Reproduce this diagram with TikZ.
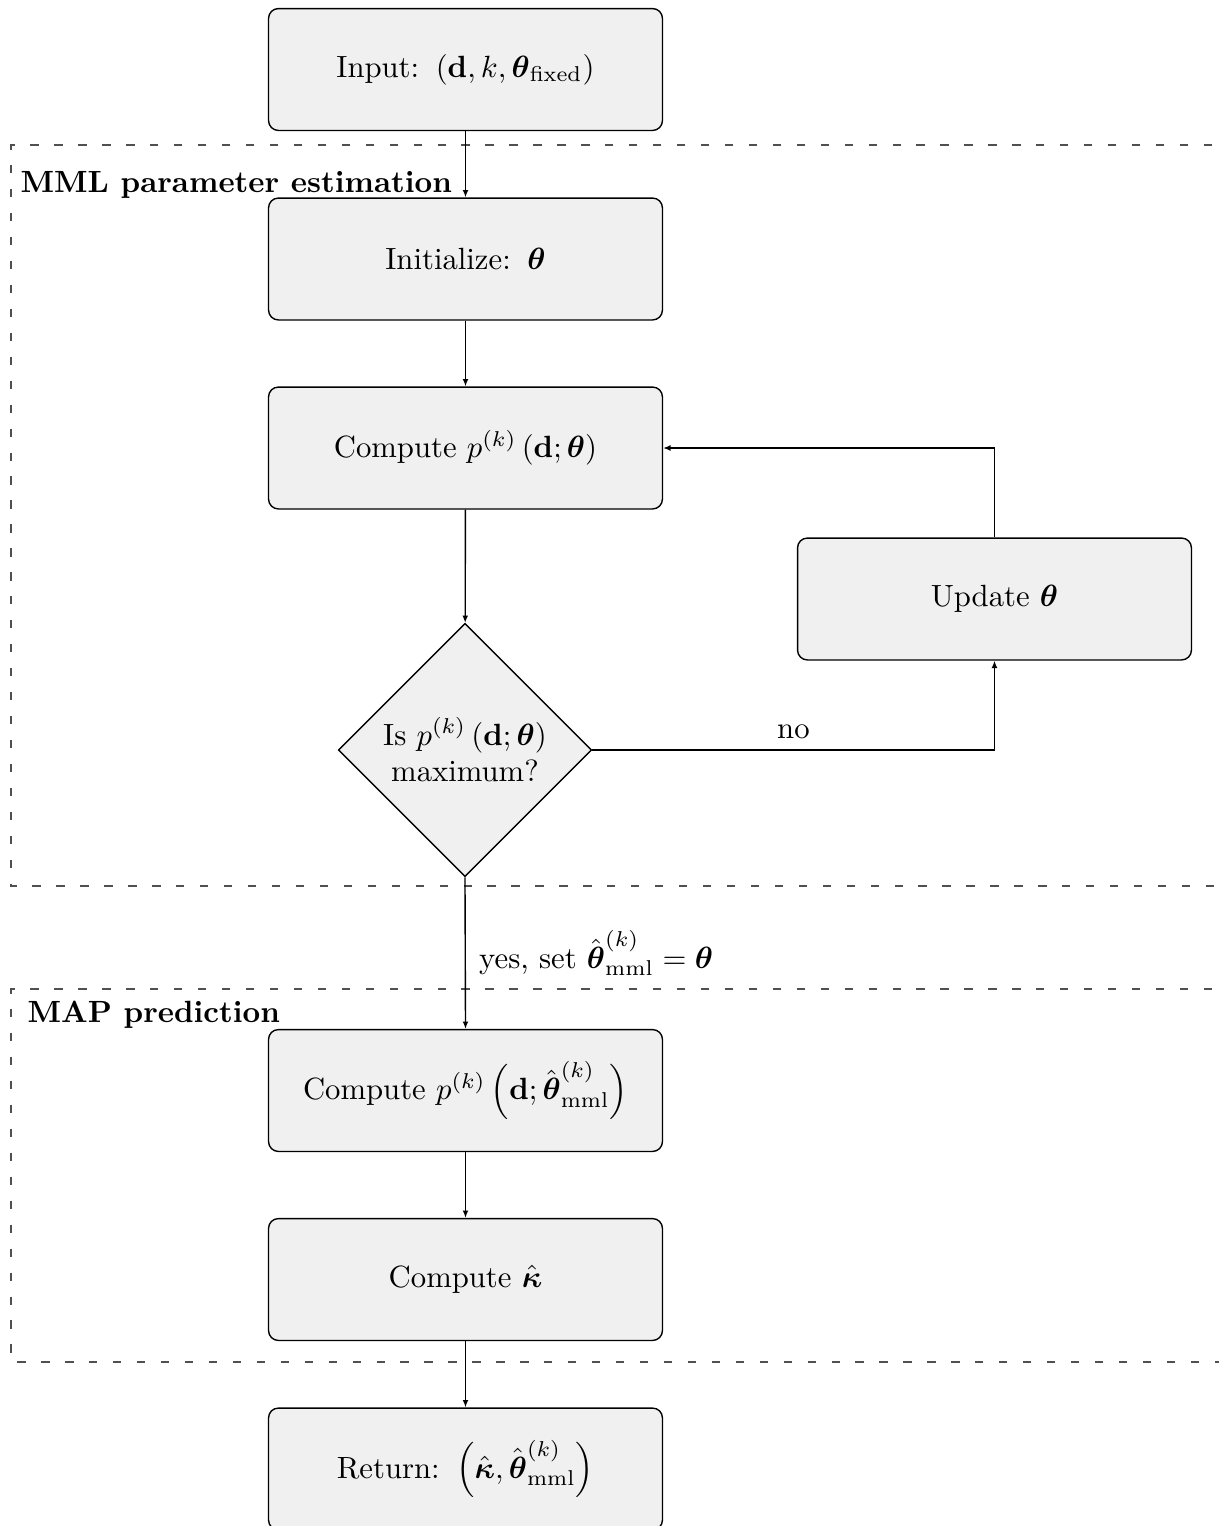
\documentclass[tikz,border=0pt]{standalone}
\usepackage{amsmath}
\usetikzlibrary{shapes.geometric,arrows.meta}
\definecolor{boxfill}{RGB}{240,240,240}
\definecolor{framegray}{RGB}{80,80,80}
\newcommand{\colongap}{\hspace{5.4pt}}
\tikzset{
  procbox/.style={draw, fill=boxfill, rounded corners=3.2pt, line width=0.45pt,
    minimum width=128.3pt, minimum height=39.7pt, align=center, inner sep=2pt},
  decbox/.style={draw, fill=boxfill, diamond, aspect=1, line width=0.45pt,
    minimum size=82.5pt, inner sep=0pt, align=center},
  flow/.style={-{Latex[length=2.4pt,width=1.9pt]}, line width=0.45pt},
  framebox/.style={draw=framegray, line width=0.45pt, dash pattern=on 2.7pt off 5.1pt},
  grouptitle/.style={font=\bfseries, inner sep=0pt, anchor=base west}
}
\begin{document}
\begin{tikzpicture}[x=0.32573pt, y=-0.32573pt]
  \useasboundingbox (0,0) rectangle (1219,1526);
  \clip (0,0) rectangle (1219,1526);

  % dashed group frames (open towards the right edge)
  \draw[framebox] (1260,145) -- (11,145) -- (11,886) -- (1260,886);
  \draw[framebox] (1260,989) -- (11,989) -- (11,1362) -- (1260,1362);
  \node[grouptitle] (mmltitle) at (20,192) {MML parameter estimation};
  \node[grouptitle] (maptitle) at (27,1022) {MAP prediction};

  % process steps
  \node[procbox] (input) at (465.5,69.5) {Input:\colongap$(\mathbf{d},k,\boldsymbol{\theta}_{\mathrm{fixed}})$};
  \node[procbox] (init) at (465.5,259) {Initialize:\colongap$\boldsymbol{\theta}$};
  \node[procbox] (comp) at (465.5,448) {Compute $p^{(k)}\left(\mathbf{d};\boldsymbol{\theta}\right)$};
  \node[decbox] (dec) at (465,750) {Is $p^{(k)}\left(\mathbf{d};\boldsymbol{\theta}\right)$\\maximum?};
  \node[procbox] (upd) at (994.5,599) {Update $\boldsymbol{\theta}$};
  \node[procbox] (comp2) at (465.5,1090.5) {Compute $p^{(k)}\left(\mathbf{d};\hat{\boldsymbol{\theta}}^{(k)}_{\mathrm{mml}}\right)$};
  \node[procbox] (kappa) at (465.5,1279.5) {Compute $\hat{\boldsymbol{\kappa}}$};
  \node[procbox] (ret) at (465.5,1469) {Return:\colongap$\left(\hat{\boldsymbol{\kappa}},\hat{\boldsymbol{\theta}}^{(k)}_{\mathrm{mml}}\right)$};

  % connectors
  \draw[flow] (input) -- (init);
  \draw[flow] (init) -- (comp);
  \draw[flow] (comp) -- (dec);
  \draw[flow] (dec.east) -| node[pos=0.25, above] {no} (upd.south);
  \draw[flow] (upd.north) |- (comp.east);
  \draw[flow] (dec.south) -- node[right, xshift=1pt] {yes, set $\hat{\boldsymbol{\theta}}^{(k)}_{\mathrm{mml}}=\boldsymbol{\theta}$} (comp2.north);
  \draw[flow] (comp2) -- (kappa);
  \draw[flow] (kappa) -- (ret);
\end{tikzpicture}
\end{document}
